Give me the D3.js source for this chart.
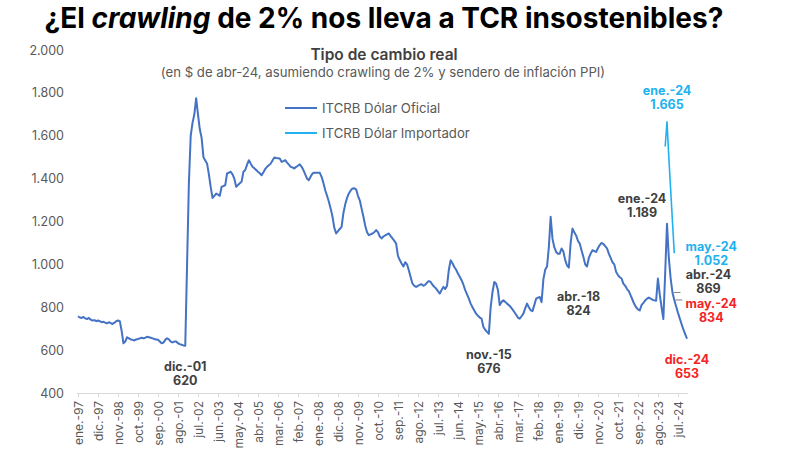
<!DOCTYPE html>
<html>
<head>
<meta charset="utf-8">
<script src="https://cdn.jsdelivr.net/npm/d3@7"></script>
<style>
  body { margin: 0; background: #fff; }
  svg { font-family: Inter, Roboto, "Noto Sans", sans-serif; }
</style>
</head>
<body>
<div id="chart"></div>
<script>
// ITCRB dolar oficial, monthly, ene-97 .. dic-24
var oficial = [
  758, 752, 750, 755, 748, 745, 750, 742, 738, 740, 735, 738,        // 1997
  735, 730, 732, 728, 725, 730, 726, 722, 728, 735, 738, 735,        // 1998
  690, 632, 640, 660, 655, 650, 648, 645, 650, 652, 655, 658,        // 1999
  655, 658, 662, 660, 658, 655, 652, 650, 648, 640, 632, 635,        // 2000
  648, 655, 650, 640, 636, 640, 640, 632, 628, 625, 622, 620,        // 2001
  1000, 1380, 1600, 1660, 1700, 1775, 1700, 1630, 1590, 1500, 1485, 1470, // 2002
  1420, 1360, 1310, 1320, 1330, 1325, 1320, 1362, 1365, 1370, 1424, 1428, // 2003
  1432, 1420, 1400, 1362, 1370, 1378, 1386, 1432, 1440, 1465, 1486, 1470, // 2004
  1455, 1448, 1440, 1432, 1425, 1416, 1430, 1445, 1455, 1462, 1470, 1485, // 2005
  1499, 1496, 1495, 1494, 1478, 1482, 1486, 1475, 1465, 1455, 1452, 1447, // 2006
  1455, 1460, 1467, 1455, 1440, 1420, 1400, 1393, 1410, 1424, 1428, 1427, // 2007
  1428, 1427, 1408, 1380, 1346, 1320, 1292, 1260, 1222, 1170, 1144, 1155, // 2008
  1165, 1175, 1240, 1280, 1310, 1331, 1345, 1354, 1355, 1350, 1320, 1299, // 2009
  1260, 1222, 1180, 1150, 1136, 1140, 1144, 1150, 1160, 1150, 1130, 1121, // 2010
  1130, 1135, 1140, 1144, 1132, 1121, 1110, 1097, 1040, 1020, 1004, 990,  // 2011
  1010, 1000, 972, 940, 910, 900, 895, 900, 905, 907, 900, 905,      // 2012
  915, 922, 918, 905, 895, 887, 875, 864, 880, 895, 885, 900,        // 2013
  975, 1019, 1005, 988, 975, 957, 942, 926, 905, 880, 860, 840,      // 2014
  817, 800, 785, 770, 760, 752, 747, 708, 695, 685, 676, 800,        // 2015
  870, 918, 910, 880, 810, 825, 832, 825, 817, 810, 801, 790,        // 2016
  778, 765, 752, 747, 758, 770, 795, 817, 800, 786, 782, 810,        // 2017
  840, 845, 848, 824, 930, 975, 990, 1080, 1222, 1120, 1080, 1058,   // 2018
  1050, 1050, 1074, 1060, 1020, 995, 985, 1100, 1167, 1150, 1135, 1110, // 2019
  1097, 1065, 1035, 1000, 990, 1030, 1050, 1066, 1062, 1058, 1075, 1090, // 2020
  1100, 1095, 1085, 1075, 1050, 1030, 1010, 1000, 965, 950, 940, 934,   // 2021
  910, 900, 885, 875, 855, 835, 815, 800, 790, 785, 810, 820,        // 2022
  832, 840, 845, 840, 835, 832, 830, 934, 860, 800, 745, 960,        // 2023
  1189, 1030, 935, 869, 834, 805, 775, 748, 722, 697, 675, 653       // 2024
];

// ITCRB dolar importador, dic-23 .. may-24
var importadorInicio = "2023-12";
var importador = [1550, 1665, 1500, 1350, 1200, 1052];

var meses = ["ene", "feb", "mar", "abr", "may", "jun", "jul", "ago", "sep", "oct", "nov", "dic"];

var tickLabels = ["ene.-97", "dic.-97", "nov.-98", "oct.-99", "sep.-00", "ago.-01", "jul.-02",
  "jun.-03", "may.-04", "abr.-05", "mar.-06", "feb.-07", "ene.-08", "dic.-08", "nov.-09",
  "oct.-10", "sep.-11", "ago.-12", "jul.-13", "jun.-14", "may.-15", "abr.-16", "mar.-17",
  "feb.-18", "ene.-19", "dic.-19", "nov.-20", "oct.-21", "sep.-22", "ago.-23", "jul.-24"];

var yTicks = [400, 600, 800, 1000, 1200, 1400, 1600, 1800, 2000];

// annotated points: [serie, mes, valor, color]
var notas = [
  ["oficial", "2001-12", 620, "gris"],
  ["oficial", "2015-11", 676, "gris"],
  ["oficial", "2018-04", 824, "gris"],
  ["oficial", "2024-01", 1189, "gris"],
  ["importador", "2024-01", 1665, "celeste"],
  ["importador", "2024-05", 1052, "celeste"],
  ["oficial", "2024-04", 869, "gris"],
  ["oficial", "2024-05", 834, "rojo"],
  ["oficial", "2024-12", 653, "rojo"]
];
// label offsets from the point [dx, dy of first line]
var notaPos = [[0, 25], [0, 25], [37, -1], [-25, -21], [0, -27], [37, -2], [36, -13], [37, 8], [0, 25]];

var width = 800, height = 459;
var colors = { oficial: "#4472C4", importador: "#20B2EE", gris: "#404040", celeste: "#20B2EE", rojo: "#F42424" };

var es = d3.formatLocale({ decimal: ",", thousands: ".", grouping: [3], currency: ["$", ""] });
var fmt = es.format(",d");
var parseMes = d3.timeParse("%Y-%m");

var inicio = new Date(1997, 0, 1);
var fechas = d3.timeMonth.range(inicio, new Date(2025, 0, 1));
var serieOficial = oficial.map(function(v, i) { return { fecha: fechas[i], valor: v }; });
var impFechas = d3.timeMonth.range(parseMes(importadorInicio), d3.timeMonth.offset(parseMes(importadorInicio), importador.length));
var serieImportador = importador.map(function(v, i) { return { fecha: impFechas[i], valor: v }; });

var x = d3.scaleLinear()
    .domain([0, fechas.length - 1])
    .range([78, 687]);
function xFecha(f) { return x(d3.timeMonth.count(inicio, f)); }

var y = d3.scaleLinear()
    .domain([400, 2000])
    .range([393, 50]);

var svg = d3.select("#chart").append("svg")
    .attr("width", width)
    .attr("height", height);

// titles
svg.append("text")
    .attr("x", 384).attr("y", 28)
    .attr("text-anchor", "middle")
    .style("font-size", "28px").style("font-weight", 700).style("fill", "#000")
    .html('¿El <tspan font-style="italic">crawling</tspan> de 2% nos lleva a TCR insostenibles?');

svg.append("text")
    .attr("x", 384).attr("y", 60)
    .attr("text-anchor", "middle")
    .style("font-size", "15.5px").style("font-weight", 600).style("fill", "#404040")
    .text("Tipo de cambio real");

svg.append("text")
    .attr("x", 383).attr("y", 77)
    .attr("text-anchor", "middle")
    .style("font-size", "13.2px").style("fill", "#595959")
    .text("(en $ de abr-24, asumiendo crawling de 2% y sendero de inflación PPI)");

// y axis (labels only)
var yAxis = svg.append("g")
    .attr("transform", "translate(64,0)")
    .call(d3.axisLeft(y).tickValues(yTicks).tickSize(0).tickPadding(0).tickFormat(fmt));
yAxis.select(".domain").remove();
yAxis.selectAll("text").style("font-size", "12.5px").style("fill", "#595959").style("font-family", "Inter");

// x axis
var tickIdx = tickLabels.map(function(d, i) { return i * 11; });
var xAxis = svg.append("g")
    .attr("transform", "translate(0," + y(400) + ")")
    .call(d3.axisBottom(x).tickValues(tickIdx).tickSizeOuter(0).tickSize(4)
      .tickFormat(function(d, i) { return tickLabels[i]; }));
xAxis.select(".domain").attr("stroke", "#D9D9D9").attr("d", "M77,0.5H688");
xAxis.selectAll(".tick line").attr("stroke", "#D9D9D9");
xAxis.selectAll("text")
    .attr("transform", "rotate(-90)")
    .attr("text-anchor", "end")
    .attr("x", -8).attr("y", 0).attr("dy", "0.35em")
    .style("font-size", "12px").style("fill", "#595959").style("font-family", "Inter");

// lines
var line = d3.line()
    .x(function(d) { return xFecha(d.fecha); })
    .y(function(d) { return y(d.valor); });

svg.append("path")
    .datum(serieOficial)
    .attr("fill", "none")
    .attr("stroke", colors.oficial)
    .attr("stroke-width", 2)
    .attr("stroke-linejoin", "round")
    .attr("d", line);

svg.append("path")
    .datum(serieImportador)
    .attr("fill", "none")
    .attr("stroke", colors.importador)
    .attr("stroke-width", 1.6)
    .attr("stroke-linejoin", "round")
    .attr("d", line);

// legend
var legend = svg.append("g");
[["ITCRB Dólar Oficial", colors.oficial, 108], ["ITCRB Dólar Importador", colors.importador, 133]].forEach(function(l) {
  legend.append("line")
      .attr("x1", 285).attr("x2", 317).attr("y1", l[2]).attr("y2", l[2])
      .attr("stroke", l[1]).attr("stroke-width", 2);
  legend.append("text")
      .attr("x", 322).attr("y", l[2]).attr("dy", "0.35em")
      .style("font-size", "13.2px").style("fill", "#595959")
      .text(l[0]);
});

// annotations
notas.forEach(function(n, i) {
  var f = parseMes(n[1]);
  var px = xFecha(f), py = y(n[2]);
  var tx = px + notaPos[i][0], ty = py + notaPos[i][1];
  var etiqueta = meses[f.getMonth()] + ".-" + String(f.getFullYear()).slice(2);
  if (n[1] === "2024-04" || (n[1] === "2024-05" && n[0] === "oficial")) {
    svg.append("path")
        .attr("d", "M" + (px + 1) + "," + py + "H" + (px + 8))
        .attr("stroke", "#808080").attr("stroke-width", 1).attr("fill", "none");
  }
  var t = svg.append("text")
      .attr("text-anchor", "middle")
      .style("font-size", "12.5px").style("font-weight", 700)
      .style("fill", colors[n[3]]);
  t.append("tspan").attr("x", tx).attr("y", ty).text(etiqueta);
  t.append("tspan").attr("x", tx).attr("y", ty + 14).text(fmt(n[2]));
});
</script>
</body>
</html>
